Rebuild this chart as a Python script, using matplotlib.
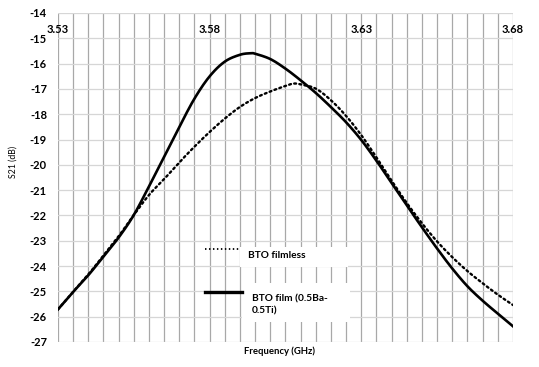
import numpy as np
import matplotlib
matplotlib.use("Agg")
import matplotlib.pyplot as plt
from matplotlib.patches import Rectangle
from matplotlib.lines import Line2D

plt.rcParams['font.family'] = ['Lato', 'DejaVu Sans']

# ---- data ----
freq_solid = [3.530, 3.535, 3.540, 3.545, 3.550, 3.555, 3.560, 3.565, 3.570, 3.575,
              3.580, 3.585, 3.590, 3.5935, 3.595, 3.600, 3.605, 3.610, 3.615, 3.620,
              3.625, 3.630, 3.635, 3.640, 3.645, 3.650, 3.655, 3.660, 3.665, 3.670,
              3.675, 3.680]
s21_film = [-25.71, -25.02, -24.36, -23.62, -22.87, -21.98, -20.85, -19.68, -18.50, -17.38,
            -16.50, -15.92, -15.65, -15.59, -15.61, -15.82, -16.20, -16.66, -17.16, -17.72,
            -18.32, -19.02, -19.84, -20.72, -21.60, -22.47, -23.31, -24.10, -24.80, -25.37,
            -25.88, -26.38]

freq_dot = [3.530, 3.535, 3.540, 3.545, 3.550, 3.555, 3.560, 3.565, 3.570, 3.575,
            3.580, 3.585, 3.590, 3.595, 3.600, 3.605, 3.6075, 3.610, 3.615, 3.620,
            3.625, 3.630, 3.635, 3.640, 3.645, 3.650, 3.655, 3.660, 3.665, 3.670,
            3.675, 3.680]
s21_filmless = [-25.71, -25.02, -24.33, -23.58, -22.82, -21.98, -21.19, -20.56, -19.90, -19.28,
                -18.70, -18.17, -17.71, -17.36, -17.10, -16.88, -16.79, -16.82, -16.99, -17.45,
                -18.07, -18.83, -19.71, -20.63, -21.51, -22.31, -23.03, -23.65, -24.20, -24.68,
                -25.13, -25.54]

x_major = [3.53, 3.58, 3.63, 3.68]
x_major_labels = ['3.53', '3.58', '3.63', '3.68']
y_ticks = list(range(-27, -13))
series_labels = ['BTO filmless', 'BTO film (0.5Ba-\n0.5Ti)']

W, H = 539, 367
fig = plt.figure(figsize=(W / 100, H / 100), dpi=100)
L, R, T, B = 58, 513, 13, 342
ax = fig.add_axes([L / W, 1 - B / H, (R - L) / W, (B - T) / H])
ax.set_xlim(3.53, 3.68)
ax.set_ylim(-27, -14)


def smooth_line(xs, ys, n=12):
    """Excel-style smoothed line (Catmull-Rom through the points, in screen space)."""
    xs = np.asarray(xs, float)
    ys = np.asarray(ys, float)
    sx = (R - L) / 0.15
    sy = (B - T) / 13.0
    P = np.column_stack([xs * sx, ys * sy])
    P = np.vstack([P[0] * 2 - P[1], P, P[-1] * 2 - P[-2]])
    out = []
    for i in range(1, len(P) - 2):
        p0, p1, p2, p3 = P[i - 1], P[i], P[i + 1], P[i + 2]
        t = np.linspace(0, 1, n, endpoint=False)[:, None]
        c = 0.5 * ((2 * p1) + (-p0 + p2) * t + (2 * p0 - 5 * p1 + 4 * p2 - p3) * t ** 2
                   + (-p0 + 3 * p1 - 3 * p2 + p3) * t ** 3)
        out.append(c)
    out.append(P[-2][None, :])
    out = np.vstack(out)
    return out[:, 0] / sx, out[:, 1] / sy


dx, dy = smooth_line(freq_dot, s21_filmless)
ax.plot(dx, dy, color='black', lw=1.7, linestyle=(0, (0.8, 1.4)),
        dash_capstyle='round', zorder=5)
sx_, sy_ = smooth_line(freq_solid, s21_film)
ax.plot(sx_, sy_, color='black', lw=1.9, zorder=6)

# grid
ax.set_xticks(x_major)
ax.set_xticklabels(x_major_labels, fontsize=8, fontweight='bold')
ax.set_xticks(np.arange(3.53, 3.68 + 1e-9, 0.005), minor=True)
ax.xaxis.tick_top()
ax.tick_params(axis='x', which='both', length=0, pad=-15.5, colors='black')
ax.set_yticks(y_ticks)
ax.set_yticklabels([str(v) for v in y_ticks], fontsize=8, fontweight='bold')
ax.tick_params(axis='y', length=0, pad=8)
ax.grid(axis='x', which='both', color='#a8a8a8', lw=0.9)
ax.grid(axis='y', which='major', color='#d6d6d6', lw=0.9)
for s in ax.spines.values():
    s.set_visible(False)
ax.set_axisbelow(True)


def fx(px):
    return px / W


def fy(py):
    return 1 - py / H


# legend with white boxes behind text
for (x0, y0, x1, y1) in [(240, 247, 348, 267), (242, 283, 350, 322)]:
    fig.patches.append(Rectangle((fx(x0), fy(y1)), fx(x1) - fx(x0), fy(y0) - fy(y1),
                                 transform=fig.transFigure, facecolor='white',
                                 edgecolor='none', zorder=3))
fig.add_artist(Line2D([fx(205), fx(240)], [fy(249), fy(249)], color='black', lw=1.3,
                      linestyle=(0, (0.8, 1.4)), zorder=4))
fig.add_artist(Line2D([fx(205), fx(242)], [fy(292), fy(292)], color='black', lw=2.4,
                      zorder=4))
fig.text(fx(248), fy(256), series_labels[0], fontsize=7.3, fontweight='bold',
         va='center', ha='left', zorder=5)
fig.text(fx(252), fy(305), series_labels[1], fontsize=7.3, fontweight='bold',
         va='center', ha='left', linespacing=1.5, zorder=5)

fig.text(fx(279), fy(351), 'Frequency (GHz)', fontsize=6.8, fontweight='bold',
         ha='center', va='center')
fig.text(fx(13), fy(162), 'S21 (dB)', fontsize=6.3, rotation=90,
         ha='center', va='center')

fig.savefig('out.png', dpi=100, facecolor='white')
